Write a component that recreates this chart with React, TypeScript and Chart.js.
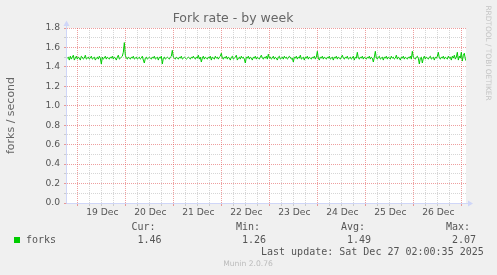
import React, { useEffect, useRef } from "react";
import { Chart, registerables } from "chart.js";

Chart.register(...registerables);

// Time is expressed in hours relative to 19 Dec 2025 00:00
const SERIES_START_HOUR = -5;
const SAMPLE_STEP_HOURS = 0.5;
const X_MIN_HOUR = -5.17;
const X_MAX_HOUR = 194.33;

const forksPerSecond: number[] = [
  1.49, 1.5, 1.47, 1.51, 1.48, 1.5, 1.52, 1.47, 1.49, 1.51, 1.48, 1.5, 1.49, 1.47, 1.51, 1.5, 1.48, 1.49, 1.52, 1.48,
  1.49, 1.5, 1.48, 1.49, 1.51, 1.48, 1.49, 1.5, 1.47, 1.49, 1.5, 1.48, 1.51, 1.49, 1.43, 1.5, 1.48, 1.49, 1.51, 1.48,
  1.5, 1.49, 1.48, 1.5, 1.49, 1.51, 1.48, 1.5, 1.49, 1.47, 1.5, 1.52, 1.48, 1.49, 1.5, 1.51, 1.55, 1.65, 1.52, 1.49,
  1.48, 1.5, 1.49, 1.48, 1.5, 1.49, 1.51, 1.48, 1.49, 1.5, 1.48, 1.49, 1.5, 1.48, 1.49, 1.51, 1.47, 1.44, 1.49, 1.5,
  1.48, 1.49, 1.5, 1.49, 1.48, 1.5, 1.49, 1.51, 1.48, 1.49, 1.5, 1.47, 1.5, 1.49, 1.51, 1.43, 1.49, 1.5, 1.48, 1.49,
  1.5, 1.49, 1.48, 1.5, 1.51, 1.57, 1.5, 1.49, 1.48, 1.5, 1.49, 1.48, 1.5, 1.49, 1.51, 1.48, 1.49, 1.5, 1.49, 1.48,
  1.49, 1.5, 1.49, 1.48, 1.5, 1.49, 1.51, 1.49, 1.48, 1.5, 1.49, 1.52, 1.48, 1.5, 1.45, 1.49, 1.51, 1.48, 1.5, 1.49,
  1.48, 1.5, 1.49, 1.51, 1.47, 1.5, 1.49, 1.48, 1.51, 1.49, 1.5, 1.48, 1.5, 1.51, 1.54, 1.49, 1.48, 1.5, 1.49, 1.51,
  1.48, 1.5, 1.49, 1.47, 1.5, 1.51, 1.48, 1.49, 1.5, 1.52, 1.47, 1.49, 1.5, 1.48, 1.51, 1.49, 1.5, 1.48, 1.44, 1.5,
  1.49, 1.51, 1.48, 1.5, 1.49, 1.47, 1.5, 1.49, 1.51, 1.48, 1.5, 1.49, 1.48, 1.5, 1.52, 1.49, 1.48, 1.5, 1.49, 1.51,
  1.48, 1.53, 1.49, 1.5, 1.48, 1.49, 1.51, 1.48, 1.5, 1.49, 1.47, 1.5, 1.51, 1.48, 1.49, 1.5, 1.48, 1.51, 1.49, 1.5,
  1.48, 1.49, 1.51, 1.5, 1.48, 1.49, 1.45, 1.5, 1.49, 1.51, 1.48, 1.5, 1.49, 1.52, 1.48, 1.49, 1.5, 1.47, 1.5, 1.49,
  1.51, 1.48, 1.5, 1.49, 1.48, 1.5, 1.49, 1.51, 1.48, 1.5, 1.56, 1.49, 1.47, 1.5, 1.49, 1.51, 1.48, 1.5, 1.49, 1.48,
  1.5, 1.49, 1.51, 1.48, 1.49, 1.5, 1.47, 1.5, 1.49, 1.51, 1.48, 1.5, 1.49, 1.48, 1.5, 1.52, 1.49, 1.48, 1.5, 1.49,
  1.51, 1.48, 1.49, 1.5, 1.48, 1.49, 1.51, 1.47, 1.5, 1.49, 1.55, 1.49, 1.48, 1.5, 1.49, 1.51, 1.48, 1.5, 1.49, 1.48,
  1.5, 1.49, 1.51, 1.48, 1.5, 1.49, 1.45, 1.5, 1.56, 1.49, 1.48, 1.5, 1.51, 1.48, 1.49, 1.5, 1.47, 1.5, 1.49, 1.51,
  1.48, 1.5, 1.49, 1.48, 1.51, 1.49, 1.5, 1.48, 1.49, 1.52, 1.48, 1.5, 1.49, 1.47, 1.5, 1.49, 1.51, 1.48, 1.5, 1.49,
  1.48, 1.5, 1.49, 1.51, 1.48, 1.56, 1.5, 1.49, 1.48, 1.5, 1.51, 1.49, 1.43, 1.49, 1.5, 1.44, 1.49, 1.51, 1.48, 1.5,
  1.49, 1.48, 1.5, 1.51, 1.48, 1.49, 1.5, 1.47, 1.5, 1.49, 1.51, 1.55, 1.49, 1.48, 1.5, 1.49, 1.51, 1.48, 1.5, 1.49,
  1.48, 1.51, 1.49, 1.5, 1.47, 1.51, 1.49, 1.52, 1.48, 1.5, 1.55, 1.47, 1.51, 1.49, 1.55, 1.46, 1.52, 1.54, 1.48, 1.46,
];

const dayLabels = ["19 Dec", "20 Dec", "21 Dec", "22 Dec", "23 Dec", "24 Dec", "25 Dec", "26 Dec", "27 Dec"];
const yTickValues = [0, 0.1, 0.2, 0.3, 0.4, 0.5, 0.6, 0.7, 0.8, 0.9, 1.0, 1.1, 1.2, 1.3, 1.4, 1.5, 1.6, 1.7, 1.8];
const HOURS_PER_MINOR_TICK = 6;

const chartTitle = "Fork rate - by week";
const yAxisTitle = "forks / second";
const seriesName = "forks";
const statLabels = ["Cur:", "Min:", "Avg:", "Max:"];
const statValues = ["1.46", "1.26", "1.49", "2.07"];
const lastUpdate = "Last update: Sat Dec 27 02:00:35 2025";
const sideText = "RRDTOOL / TOBI OETIKER";
const footerText = "Munin 2.0.76";

const LINE_COLOR = "#00cc00";
const MAJOR_GRID = "rgba(224, 80, 80, 0.55)";
const MINOR_GRID = "rgba(128, 128, 128, 0.32)";
const AXIS_COLOR = "#cfd6f8";
const TEXT_COLOR = "#555555";

const decorPlugin = {
  id: "muninDecor",
  beforeDraw(chart: any) {
    const { ctx, chartArea } = chart;
    ctx.save();
    ctx.fillStyle = "#f0f0f0";
    ctx.fillRect(0, 0, chart.width, chart.height);
    ctx.fillStyle = "#ffffff";
    ctx.fillRect(chartArea.left, chartArea.top, chartArea.right - chartArea.left, chartArea.bottom - chartArea.top);
    ctx.restore();
  },
  afterDraw(chart: any) {
    const { ctx, chartArea } = chart;
    const l = chartArea.left;
    const b = chartArea.bottom;
    ctx.save();
    // axes
    ctx.strokeStyle = AXIS_COLOR;
    ctx.lineWidth = 1;
    ctx.beginPath();
    ctx.moveTo(l - 0.5, b + 0.5);
    ctx.lineTo(chartArea.right + 3, b + 0.5);
    ctx.moveTo(l - 0.5, b + 0.5);
    ctx.lineTo(l - 0.5, chartArea.top - 4);
    ctx.stroke();
    ctx.fillStyle = AXIS_COLOR;
    ctx.beginPath();
    ctx.moveTo(l - 3.5, chartArea.top - 2);
    ctx.lineTo(l + 2.5, chartArea.top - 2);
    ctx.lineTo(l - 0.5, chartArea.top - 7.5);
    ctx.closePath();
    ctx.fill();
    ctx.beginPath();
    ctx.moveTo(chartArea.right + 2, b - 2.5);
    ctx.lineTo(chartArea.right + 2, b + 3.5);
    ctx.lineTo(chartArea.right + 7, b + 0.5);
    ctx.closePath();
    ctx.fill();

    // legend
    ctx.fillStyle = LINE_COLOR;
    ctx.fillRect(14, 237, 6, 6);
    ctx.font = '10px "DejaVu Sans Mono"';
    ctx.textBaseline = "middle";
    ctx.textAlign = "left";
    ctx.fillStyle = TEXT_COLOR;
    ctx.fillText(seriesName, 26, 240);
    const statX = [131.5, 236, 341, 446];
    statLabels.forEach((s, i) => {
      ctx.fillText(s, statX[i], 227);
      ctx.fillText(statValues[i], statX[i] + 6, 240);
    });
    ctx.fillText(lastUpdate, 261, 252);

    // footer
    ctx.font = '7.6px "DejaVu Sans"';
    ctx.fillStyle = "#bbbbbb";
    ctx.textAlign = "center";
    ctx.fillText(footerText, 248, 264);

    // side text
    ctx.translate(488, 53);
    ctx.rotate(Math.PI / 2);
    ctx.font = '7.4px "DejaVu Sans"';
    ctx.fillStyle = "#c4c4c4";
    ctx.fillText(sideText, 0, 0);
    ctx.restore();
  },
};

export default function App() {
  const canvasRef = useRef<HTMLCanvasElement | null>(null);

  useEffect(() => {
    if (!canvasRef.current) return;
    const points = forksPerSecond.map((v, i) => ({ x: SERIES_START_HOUR + i * SAMPLE_STEP_HOURS, y: v }));
    const xTickValues: number[] = [];
    for (let h = 0; h <= (dayLabels.length - 1) * 24; h += HOURS_PER_MINOR_TICK) xTickValues.push(h);

    const chart = new Chart(canvasRef.current, {
      type: "line",
      data: {
        datasets: [
          {
            label: seriesName,
            data: points,
            borderColor: LINE_COLOR,
            borderWidth: 1,
            pointRadius: 0,
            tension: 0,
            fill: false,
          },
        ],
      },
      options: {
        animation: false,
        responsive: false,
        devicePixelRatio: 1,
        events: [],
        layout: { padding: { left: 0, right: 31, top: 0, bottom: 52 } },
        plugins: {
          legend: { display: false },
          tooltip: { enabled: false },
          title: {
            display: true,
            text: chartTitle,
            color: "#666666",
            font: { family: "DejaVu Sans", size: 12.5, weight: "normal" },
            padding: { top: 11, bottom: 2 },
          },
        },
        scales: {
          x: {
            type: "linear",
            min: X_MIN_HOUR,
            max: X_MAX_HOUR,
            afterBuildTicks: (scale: any) => {
              scale.ticks = xTickValues.map((v) => ({ value: v }));
            },
            afterFit: (scale: any) => {
              scale.height = 20;
            },
            grid: {
              color: (c: any) => (c.tick && c.tick.value % 24 === 0 ? MAJOR_GRID : MINOR_GRID),
              lineWidth: 1,
              tickLength: 3,
              drawTicks: true,
            },
            border: { display: false, dash: [1, 1] },
            ticks: {
              autoSkip: false,
              maxRotation: 0,
              padding: 1,
              labelOffset: 1,
              color: TEXT_COLOR,
              font: { family: "DejaVu Sans", size: 9.2 },
              callback: (value: any) => {
                const h = Number(value);
                return h % 24 === 12 ? dayLabels[(h - 12) / 24] : "";
              },
            },
          },
          y: {
            type: "linear",
            min: 0,
            max: 1.8,
            afterBuildTicks: (scale: any) => {
              scale.ticks = yTickValues.map((v) => ({ value: v }));
            },
            afterFit: (scale: any) => {
              scale.width = 67;
            },
            grid: {
              color: (c: any) => (c.tick && Math.round(c.tick.value * 10) % 2 === 0 ? MAJOR_GRID : MINOR_GRID),
              lineWidth: 1,
              tickLength: 3,
            },
            border: { display: false, dash: [1, 1] },
            title: {
              display: true,
              text: yAxisTitle,
              color: "#666666",
              font: { family: "DejaVu Sans", size: 11 },
              padding: { top: 5, bottom: 0 },
            },
            ticks: {
              autoSkip: false,
              padding: 4,
              color: TEXT_COLOR,
              font: { family: "DejaVu Sans", size: 9.2 },
              callback: (value: any) => {
                const v = Number(value);
                return Math.round(v * 10) % 2 === 0 ? v.toFixed(1) : "";
              },
            },
          },
        },
      },
      plugins: [decorPlugin],
    } as any);
    return () => chart.destroy();
  }, []);

  return (
    <div style={{ position: "fixed", left: 0, top: 0, width: 497, height: 275, background: "#f0f0f0" }}>
      <canvas ref={canvasRef} width={497} height={275} style={{ display: "block", width: 497, height: 275 }} />
    </div>
  );
}
